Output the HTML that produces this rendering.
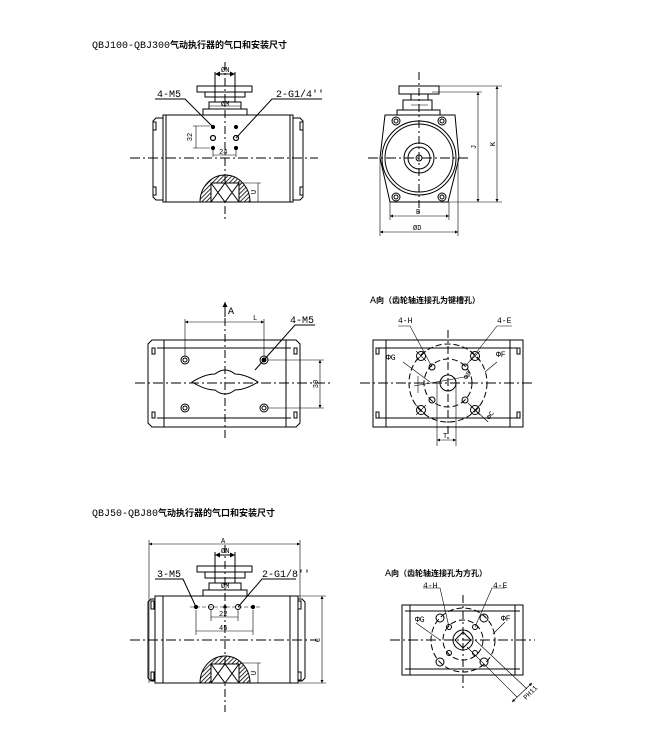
<!DOCTYPE html>
<html><head><meta charset="utf-8"><style>
html,body{margin:0;padding:0;background:#fff;}
svg{display:block}
text{font-family:"Liberation Mono","Noto Sans CJK SC",monospace;fill:#000}
.cj{font-family:"Liberation Sans","Noto Sans CJK SC",sans-serif;font-weight:bold}
</style></head><body>
<svg width="650" height="741" viewBox="0 0 650 741" xmlns="http://www.w3.org/2000/svg">
<defs>
<pattern id="h" width="3" height="3" patternUnits="userSpaceOnUse" patternTransform="rotate(45)"><line x1="0" y1="0" x2="0" y2="3" stroke="#000" stroke-width="1.6"/></pattern>
<marker id="ar" viewBox="0 0 6 6" refX="6" refY="3" markerWidth="5" markerHeight="5" orient="auto-start-reverse"><path d="M0,0L6,3L0,6z" fill="#000"/></marker>
</defs>
<g fill="none" stroke="#000" stroke-width="1">
<!-- ===== View 1 ===== -->
<rect x="163" y="115" width="130" height="87"/>
<line x1="166" y1="115" x2="166" y2="202"/><line x1="290" y1="115" x2="290" y2="202"/>
<path d="M163,118 h-7 l-3,3 v76 l3,3 h7"/><path d="M293,118 h7 l3,3 v76 l-3,3 h-7"/>
<rect x="153" y="122" width="3" height="8"/><rect x="153" y="187" width="3" height="8"/>
<rect x="300" y="122" width="3" height="8"/><rect x="300" y="187" width="3" height="8"/>
<rect x="203" y="109" width="44" height="6"/><rect x="209" y="102" width="32" height="7"/>
<rect x="215" y="97" width="20" height="5"/>
<rect x="205" y="92" width="40" height="5"/><rect x="197" y="86" width="55" height="6"/>
<line x1="215" y1="72" x2="215" y2="100"/><line x1="235" y1="72" x2="235" y2="100"/>
<line x1="215" y1="74" x2="235" y2="74" marker-start="url(#ar)" marker-end="url(#ar)"/>
<line x1="209" y1="106" x2="241" y2="106" stroke-width=".6"/>
<line x1="225" y1="62" x2="225" y2="222" stroke-dasharray="8,3,2,3"/>
<line x1="130" y1="158" x2="318" y2="158" stroke-dasharray="10,3,2,3"/>
<g stroke-width="1.2"><circle cx="213" cy="127" r="1.5" fill="#000"/><circle cx="236" cy="127" r="1.5" fill="#000"/>
<circle cx="213" cy="138" r="2.5"/><circle cx="236" cy="138" r="2.5"/>
<circle cx="213" cy="148" r="1.5" fill="#000"/><circle cx="236" cy="148" r="1.5" fill="#000"/></g>
<line x1="193" y1="126" x2="210" y2="126" stroke-width=".6"/><line x1="193" y1="148" x2="210" y2="148" stroke-width=".6"/>
<line x1="196" y1="126" x2="196" y2="148" stroke-width=".6"/>
<line x1="213" y1="150" x2="213" y2="157" stroke-width=".6"/><line x1="236" y1="150" x2="236" y2="157" stroke-width=".6"/>
<line x1="213" y1="155" x2="236" y2="155" stroke-width=".6"/>
<path d="M200,202 A25,27 0 0 1 250,202 Z" fill="url(#h)"/>
<rect x="211" y="183" width="28" height="19" fill="#fff"/>
<path d="M211,183 L225,202 L239,183 M211,202 L225,183 L239,202"/>
<line x1="240" y1="183" x2="261" y2="183" stroke-width=".6"/><line x1="258" y1="183" x2="258" y2="202" stroke-width=".6"/>
<path d="M155,99 H185 L213,127"/><path d="M322,99 H272 L236,138"/>
<!-- ===== View 2 ===== -->
<path d="M385,115 H455 L459,158 L448,202 H390 L380,158 Z"/>
<rect x="397" y="110" width="43" height="5"/><rect x="403" y="100" width="29" height="10"/>
<rect x="411" y="94" width="17" height="6"/><rect x="399" y="86" width="40" height="8"/>
<circle cx="419" cy="158" r="37"/><circle cx="419" cy="158" r="34"/>
<circle cx="419" cy="158" r="15"/><circle cx="419" cy="158" r="11"/><circle cx="419" cy="158" r="3"/>
<circle cx="396" cy="121" r="4"/><circle cx="442" cy="121" r="4"/><circle cx="396" cy="197" r="4"/><circle cx="442" cy="197" r="4"/>
<circle cx="396" cy="121" r="2"/><circle cx="442" cy="121" r="2"/><circle cx="396" cy="197" r="2"/><circle cx="442" cy="197" r="2"/>
<line x1="419" y1="72" x2="419" y2="215" stroke-dasharray="8,3,2,3"/>
<line x1="368" y1="158" x2="468" y2="158" stroke-dasharray="10,3,2,3"/>
<g stroke-width=".6">
<line x1="439" y1="86" x2="502" y2="86"/><line x1="432" y1="92" x2="482" y2="92"/><line x1="448" y1="202" x2="502" y2="202"/>
<line x1="478" y1="92" x2="478" y2="202" marker-start="url(#ar)" marker-end="url(#ar)"/>
<line x1="497" y1="86" x2="497" y2="202" marker-start="url(#ar)" marker-end="url(#ar)"/>
<line x1="390" y1="202" x2="390" y2="220"/><line x1="449" y1="202" x2="449" y2="220"/>
<line x1="390" y1="216" x2="449" y2="216" marker-start="url(#ar)" marker-end="url(#ar)"/>
<line x1="380" y1="158" x2="380" y2="236"/><line x1="458" y1="158" x2="458" y2="236"/>
<line x1="380" y1="232" x2="458" y2="232" marker-start="url(#ar)" marker-end="url(#ar)"/>
<line x1="411" y1="105" x2="428" y2="105"/>
</g>
<!-- ===== View 3 ===== -->
<path d="M152,340 H296 L300,344 V423 L296,427 H152 L148,423 V344 Z"/>
<line x1="164" y1="340" x2="164" y2="427"/><line x1="286" y1="340" x2="286" y2="427"/>
<line x1="157" y1="348" x2="291" y2="348"/><line x1="157" y1="418" x2="291" y2="418"/>
<rect x="152" y="348" width="3" height="6"/><rect x="152" y="412" width="3" height="6"/>
<rect x="294" y="348" width="3" height="6"/><rect x="294" y="412" width="3" height="6"/>
<g><circle cx="185" cy="360" r="4"/><circle cx="185" cy="360" r="2"/><circle cx="264" cy="360" r="4"/><circle cx="264" cy="360" r="2" fill="#000"/>
<circle cx="185" cy="408" r="4"/><circle cx="185" cy="408" r="2"/><circle cx="264" cy="408" r="4"/><circle cx="264" cy="408" r="2"/></g>
<path d="M192,382 Q205,374 215,374 Q225,366 235,374 Q245,374 258,382 Q245,390 235,390 Q225,398 215,390 Q205,390 192,382 Z"/>
<line x1="225" y1="318" x2="225" y2="440" stroke-dasharray="8,3,2,3"/>
<line x1="135" y1="383" x2="330" y2="383" stroke-dasharray="10,3,2,3"/>
<line x1="225" y1="317" x2="225" y2="302" marker-end="url(#ar)"/>
<g stroke-width=".6">
<line x1="185" y1="319" x2="185" y2="356"/><line x1="264" y1="319" x2="264" y2="356"/>
<line x1="185" y1="322" x2="264" y2="322" marker-start="url(#ar)" marker-end="url(#ar)"/>
<line x1="268" y1="360" x2="324" y2="360"/><line x1="268" y1="408" x2="324" y2="408"/>
<line x1="320" y1="360" x2="320" y2="408" marker-start="url(#ar)" marker-end="url(#ar)"/>
</g>
<path d="M315,325 H295 L255,370"/>
<!-- ===== View 4 ===== -->
<rect x="373" y="340" width="150" height="87"/>
<line x1="386" y1="340" x2="386" y2="427"/><line x1="510" y1="340" x2="510" y2="427"/>
<line x1="378" y1="348" x2="518" y2="348"/><line x1="378" y1="418" x2="518" y2="418"/>
<rect x="376" y="348" width="3" height="6"/><rect x="376" y="412" width="3" height="6"/>
<rect x="517" y="348" width="3" height="6"/><rect x="517" y="412" width="3" height="6"/>
<circle cx="448" cy="383" r="39" stroke-dasharray="6,3"/>
<circle cx="448" cy="383" r="24" stroke-dasharray="6,3"/>
<circle cx="448" cy="383" r="8"/>
<g><circle cx="421" cy="356" r="4.5"/><circle cx="475" cy="356" r="4.5"/><circle cx="421" cy="410" r="4.5"/><circle cx="475" cy="410" r="4.5"/>
<circle cx="432" cy="367" r="3"/><circle cx="465" cy="367" r="3"/><circle cx="432" cy="400" r="3"/><circle cx="465" cy="400" r="3"/>
<path d="M416,351 l10,10 M426,351 l-10,10 M470,351 l10,10 M480,351 l-10,10 M416,405 l10,10 M426,405 l-10,10 M470,405 l10,10 M480,405 l-10,10" stroke-width=".6"/></g>
<line x1="448" y1="330" x2="448" y2="440" stroke-dasharray="8,3,2,3"/>
<line x1="360" y1="383" x2="535" y2="383" stroke-dasharray="10,3,2,3"/>
<g stroke-width=".6">
<path d="M398,326 H410 L432,367"/><path d="M512,326 H497 L465,367"/>
<line x1="437" y1="383" x2="437" y2="446"/><line x1="456" y1="383" x2="456" y2="446"/>
<line x1="437" y1="440" x2="456" y2="440" marker-start="url(#ar)" marker-end="url(#ar)"/>
<line x1="414" y1="386" x2="470" y2="376"/>
<line x1="418" y1="376" x2="418" y2="393"/>
<path d="M403,362 L430,382"/><path d="M497,362 L485,372"/>
<line x1="468" y1="403" x2="488" y2="422"/>
</g>
<!-- ===== View 5 ===== -->
<rect x="155" y="596" width="143" height="87"/>
<line x1="163" y1="596" x2="163" y2="683"/><line x1="290" y1="596" x2="290" y2="683"/>
<path d="M155,599 h-4 l-3,3 v76 l3,3 h4"/><path d="M298,599 h4 l3,3 v76 l-3,3 h-4"/>
<rect x="151" y="601" width="3" height="8"/><rect x="151" y="672" width="3" height="8"/>
<rect x="298" y="601" width="3" height="8"/><rect x="298" y="672" width="3" height="8"/>
<rect x="203" y="590" width="44" height="6"/><rect x="209" y="583" width="32" height="7"/>
<rect x="215" y="578" width="20" height="5"/>
<rect x="205" y="572" width="40" height="6"/><rect x="197" y="566" width="55" height="6"/>
<line x1="215" y1="552" x2="215" y2="580"/><line x1="235" y1="552" x2="235" y2="580"/>
<line x1="215" y1="555" x2="235" y2="555" marker-start="url(#ar)" marker-end="url(#ar)"/>
<line x1="225" y1="545" x2="225" y2="712" stroke-dasharray="8,3,2,3"/>
<line x1="130" y1="640" x2="318" y2="640" stroke-dasharray="10,3,2,3"/>
<line x1="190" y1="607" x2="260" y2="607" stroke-dasharray="4,2" stroke-width=".6"/>
<circle cx="196" cy="607" r="1.6" fill="#000"/><circle cx="211" cy="607" r="2.5"/><circle cx="225" cy="607" r="1.2" fill="#000"/><circle cx="238" cy="607" r="2.5"/><circle cx="253" cy="607" r="1.6" fill="#000"/>
<g stroke-width=".6">
<line x1="149" y1="540" x2="149" y2="683"/><line x1="300" y1="540" x2="300" y2="598"/>
<line x1="149" y1="544" x2="300" y2="544" marker-start="url(#ar)" marker-end="url(#ar)"/>
<line x1="211" y1="610" x2="211" y2="621"/><line x1="238" y1="610" x2="238" y2="621"/>
<line x1="211" y1="617" x2="238" y2="617"/>
<line x1="196" y1="610" x2="196" y2="635"/><line x1="253" y1="610" x2="253" y2="635"/>
<line x1="196" y1="631" x2="253" y2="631"/>
<line x1="298" y1="596" x2="326" y2="596"/><line x1="298" y1="683" x2="326" y2="683"/>
<line x1="322" y1="596" x2="322" y2="683" marker-start="url(#ar)" marker-end="url(#ar)"/>
<line x1="240" y1="663" x2="261" y2="663"/><line x1="258" y1="663" x2="258" y2="683"/>
</g>
<path d="M200,683 A25,27 0 0 1 250,683 Z" fill="url(#h)"/>
<rect x="211" y="664" width="28" height="19" fill="#fff"/>
<path d="M211,664 L225,683 L239,664 M211,683 L225,664 L239,683"/>
<path d="M155,579 H183 L196,607"/><path d="M296,579 H262 L238,607"/>
<!-- ===== View 6 ===== -->
<rect x="402" y="605" width="121" height="70"/>
<line x1="410" y1="605" x2="410" y2="675"/><line x1="515" y1="605" x2="515" y2="675"/>
<line x1="405" y1="611" x2="520" y2="611"/><line x1="405" y1="669" x2="520" y2="669"/>
<circle cx="463" cy="640" r="32" stroke-dasharray="6,3"/>
<circle cx="463" cy="640" r="20" stroke-dasharray="6,3"/>
<circle cx="463" cy="640" r="10"/>
<path d="M463,632 L471,640 L463,648 L455,640 Z"/>
<circle cx="440" cy="618" r="4"/><circle cx="484" cy="618" r="4"/><circle cx="440" cy="662" r="4"/><circle cx="484" cy="662" r="4"/>
<circle cx="449" cy="627" r="2.5"/><circle cx="475" cy="627" r="2.5"/><circle cx="449" cy="653" r="2.5"/><circle cx="475" cy="653" r="2.5"/>
<line x1="463" y1="595" x2="463" y2="690" stroke-dasharray="8,3,2,3"/>
<line x1="390" y1="640" x2="535" y2="640" stroke-dasharray="10,3,2,3"/>
<g stroke-width=".6">
<path d="M423,588 H440 L449,627"/><path d="M505,588 H492 L475,627"/>
<line x1="467" y1="647" x2="517" y2="697"/><line x1="475" y1="640" x2="527" y2="689"/>
<line x1="512" y1="702" x2="532" y2="683" marker-start="url(#ar)" marker-end="url(#ar)"/>
<path d="M416,623 L440,640"/><path d="M505,622 L493,634"/>
</g>
</g>
<!-- Text -->
<g font-size="10">
<text x="92" y="48">QBJ100-QBJ300<tspan class="cj" font-size="9">气动执行器的气口和安装尺寸</tspan></text>
<text x="92" y="516">QBJ50-QBJ80<tspan class="cj" font-size="9">气动执行器的气口和安装尺寸</tspan></text>
<text x="157" y="97">4-M5</text>
<text x="276" y="97">2-G1/4''</text>
<text x="228" y="314">A</text>
<text x="290" y="323">4-M5</text>
<text x="385" y="576">A<tspan class="cj" font-size="8">向（齿轮轴连接孔为方孔）</tspan></text>
<text x="370" y="303">A<tspan class="cj" font-size="8">向（齿轮轴连接孔为键槽孔）</tspan></text>
<text x="157" y="577">3-M5</text>
<text x="262" y="577">2-G1/8''</text>
</g>
<g font-size="7">
<text x="221" y="72">ØN</text><text x="221" y="106">ØM</text>
<text x="221" y="553">ØN</text><text x="221" y="588">ØM</text>
<text x="219" y="154">24</text><text x="219" y="616">22</text><text x="219" y="630">45</text>
<text x="221" y="543">A</text>
<text transform="translate(192,137) rotate(-90)" text-anchor="middle">32</text>
<text transform="translate(256,192) rotate(-90)" text-anchor="middle">U</text>
<text transform="translate(256,673) rotate(-90)" text-anchor="middle">U</text>
<text transform="translate(318,384) rotate(-90)" text-anchor="middle">30</text>
<text transform="translate(320,640) rotate(-90)" text-anchor="middle">C</text>
<text transform="translate(476,147) rotate(-90)" text-anchor="middle">J</text>
<text transform="translate(495,144) rotate(-90)" text-anchor="middle">K</text>
<text x="416" y="214">B</text><text x="413" y="230">ØD</text>
<text x="253" y="320">L</text>
<text x="443" y="438">T</text>
<text x="398" y="323" font-size="8">4-H</text><text x="497" y="323" font-size="8">4-E</text>
<text x="386" y="360" font-size="8">ΦG</text><text x="496" y="357" font-size="8">ΦF</text>
<text x="423" y="588" font-size="8">4-H</text><text x="493" y="588" font-size="8">4-E</text>
<text x="415" y="622" font-size="8">ΦG</text><text x="501" y="621" font-size="8">ΦF</text>
<text transform="translate(467,380) rotate(-60)">Φ8</text>
<text transform="translate(490,420) rotate(-60)">ΦC</text>
<text transform="translate(526,700) rotate(-45)">PH11</text>
</g>
</svg>
</body></html>
